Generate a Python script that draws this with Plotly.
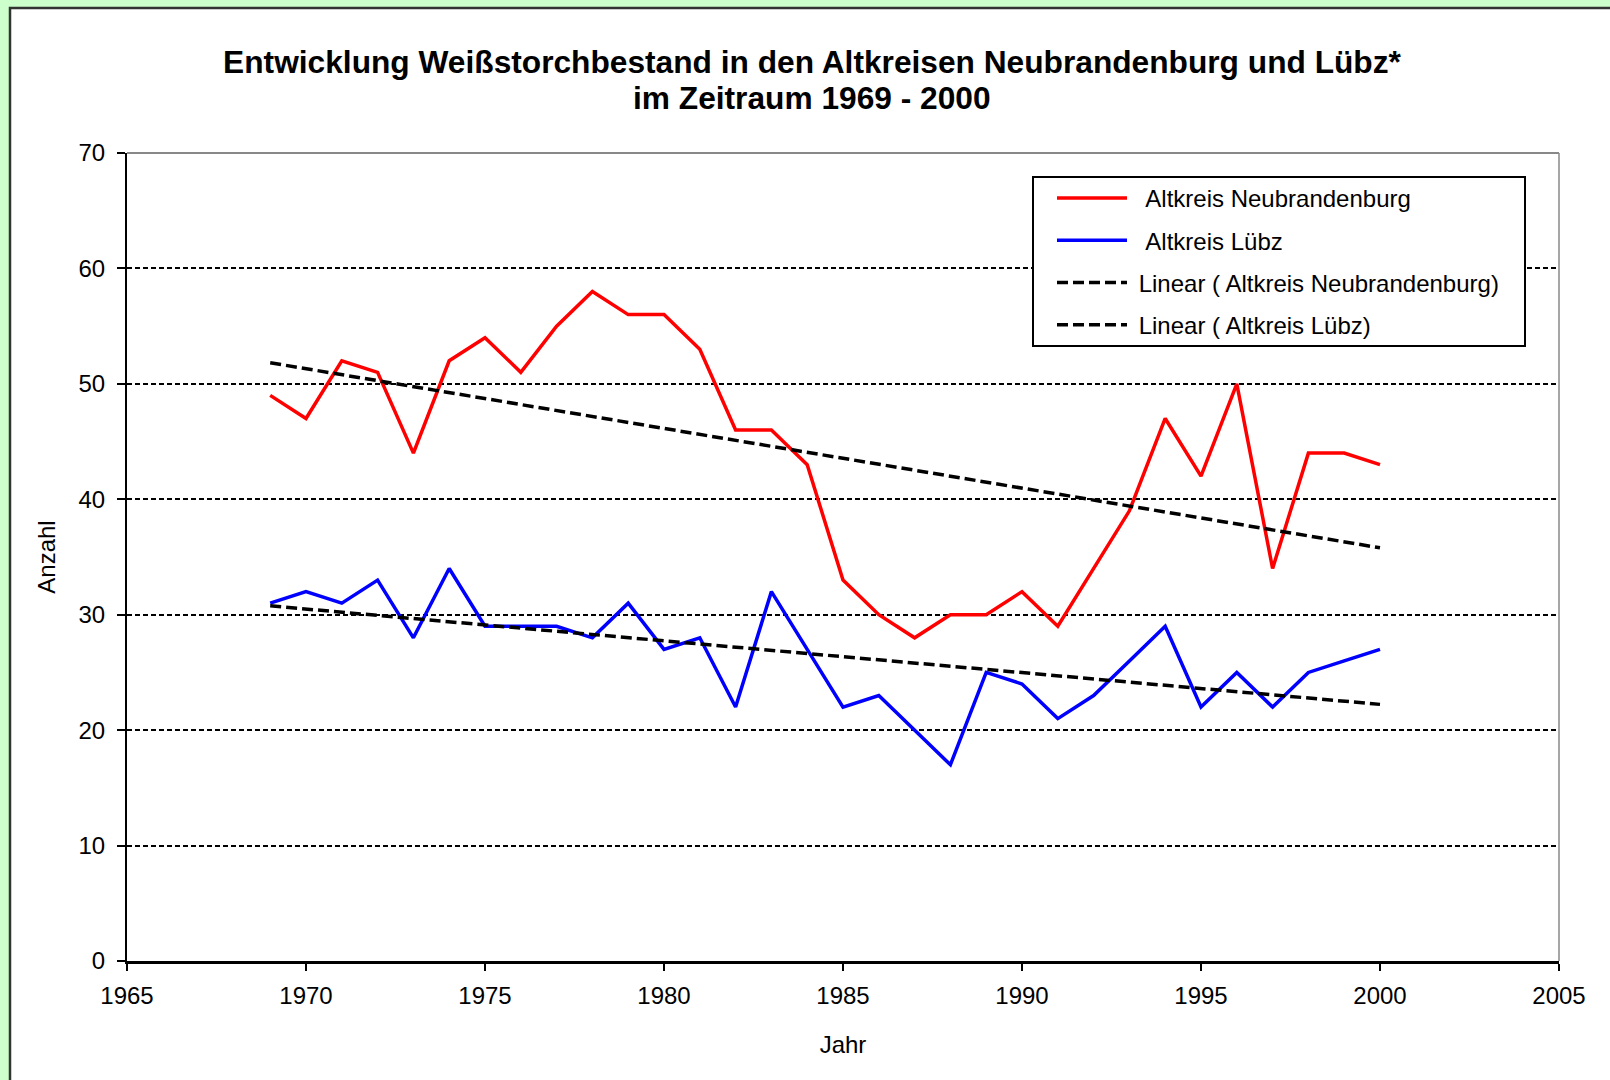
import numpy as np
import plotly.graph_objects as go

years = list(range(1969, 2001))
neubrandenburg = [49, 47, 52, 51, 44, 52, 54, 51, 55, 58, 56, 56, 53, 46, 46, 43,
                  33, 30, 28, 30, 30, 32, 29, 34, 39, 47, 42, 50, 34, 44, 44, 43]
luebz = [31, 32, 31, 33, 28, 34, 29, 29, 29, 28, 31, 27, 28, 22, 32, 27,
         22, 23, 20, 17, 25, 24, 21, 23, 26, 29, 22, 25, 22, 25, 26, 27]
y_ticks = [0, 10, 20, 30, 40, 50, 60, 70]
x_ticks = [1965, 1970, 1975, 1980, 1985, 1990, 1995, 2000, 2005]
title_line1 = "Entwicklung Weißstorchbestand in den Altkreisen Neubrandenburg und Lübz*"
title_line2 = "im Zeitraum 1969 - 2000"

yrs = np.array(years, dtype=float)
fit_n = np.polyval(np.polyfit(yrs, neubrandenburg, 1), yrs)
fit_l = np.polyval(np.polyfit(yrs, luebz, 1), yrs)

FONT = "Liberation Sans, Arial, sans-serif"
NB = "\u00a0"

fig = go.Figure()
fig.add_trace(go.Scatter(x=years, y=neubrandenburg, mode="lines", name=NB * 2 + "Altkreis Neubrandenburg",
                         line=dict(color="#FF0000", width=3.5), legendgroup="a"))
fig.add_trace(go.Scatter(x=years, y=luebz, mode="lines", name=NB * 2 + "Altkreis Lübz",
                         line=dict(color="#0000FF", width=3.5), legendgroup="b"))
fig.add_trace(go.Scatter(x=years, y=fit_n, mode="lines", name=NB + "Linear ( Altkreis Neubrandenburg)",
                         line=dict(color="black", width=3.5, dash="11px,5px"), legendgroup="c"))
fig.add_trace(go.Scatter(x=years, y=fit_l, mode="lines", name=NB + "Linear ( Altkreis Lübz)",
                         line=dict(color="black", width=3.5, dash="11px,5px"), legendgroup="d"))

W, H = 1610, 1080
L, R, T, B = 127, 1610 - 1559, 153, 1080 - 961
pw, ph = W - L - R, H - T - B

def px_x(v):
    return (v - L) / pw

def px_y(v):
    return (H - B - v) / ph

shapes = [
    # white chart area with dark border
    dict(type="rect", xref="paper", yref="paper", x0=px_x(10), x1=px_x(1625),
         y0=px_y(1095), y1=px_y(8), fillcolor="white",
         line=dict(color="#333333", width=2.5), layer="below"),
    # top and right plot border (gray)
    dict(type="line", xref="paper", yref="paper", x0=0, x1=1, y0=1, y1=1,
         line=dict(color="#888888", width=2), layer="above"),
    dict(type="line", xref="paper", yref="paper", x0=1, x1=1, y0=0, y1=1,
         line=dict(color="#888888", width=1.5), layer="above"),
    # legend box
    dict(type="rect", xref="paper", yref="paper", x0=px_x(1033), x1=px_x(1525),
         y0=px_y(346), y1=px_y(177), fillcolor="white",
         line=dict(color="black", width=2), layer="above"),
]

fig.update_layout(
    width=W, height=H,
    margin=dict(l=L, r=R, t=T, b=B, autoexpand=False),
    paper_bgcolor="#CCFFCC",
    plot_bgcolor="white",
    font=dict(family=FONT, size=24, color="black"),
    title=dict(
        text="<b>" + title_line1 + "</b>",
        x=812 / W, xref="container", xanchor="center",
        y=1 - 62 / H, yref="container", yanchor="middle",
        font=dict(family=FONT, size=31.7, color="black"),
    ),
    annotations=[dict(
        text="<b>" + title_line2 + "</b>", xref="paper", yref="paper",
        x=px_x(812), y=px_y(98), xanchor="center", yanchor="middle",
        showarrow=False, font=dict(family=FONT, size=31.7, color="black"),
    )],
    xaxis=dict(
        range=[1965, 2005], tickvals=x_ticks, ticks="outside", ticklen=7, tickwidth=2,
        tickcolor="black", showline=True, linecolor="black", linewidth=3,
        showgrid=False, zeroline=False, ticklabelstandoff=4,
        tickfont=dict(family=FONT, size=24),
        title=dict(text="Jahr", standoff=29, font=dict(family=FONT, size=24)),
    ),
    yaxis=dict(
        range=[0, 70], tickvals=y_ticks, ticks="outside", ticklen=8, tickwidth=2,
        tickcolor="black", showline=True, linecolor="black", linewidth=2,
        showgrid=True, gridcolor="black", gridwidth=1.5, griddash="5px,3px",
        zeroline=False, ticklabelstandoff=7,
        tickfont=dict(family=FONT, size=24),
        title=dict(text="Anzahl", standoff=16, font=dict(family=FONT, size=24)),
    ),
    legend=dict(
        x=px_x(1052), xanchor="left", y=px_y(176), yanchor="top",
        bgcolor="rgba(0,0,0,0)", borderwidth=0,
        font=dict(family=FONT, size=24), tracegroupgap=8,
        itemwidth=70,
    ),
    shapes=shapes,
)

fig.write_html("out.html", config={"displayModeBar": False},
               post_script="document.body.style.margin='0';document.body.style.overflow='hidden';")
